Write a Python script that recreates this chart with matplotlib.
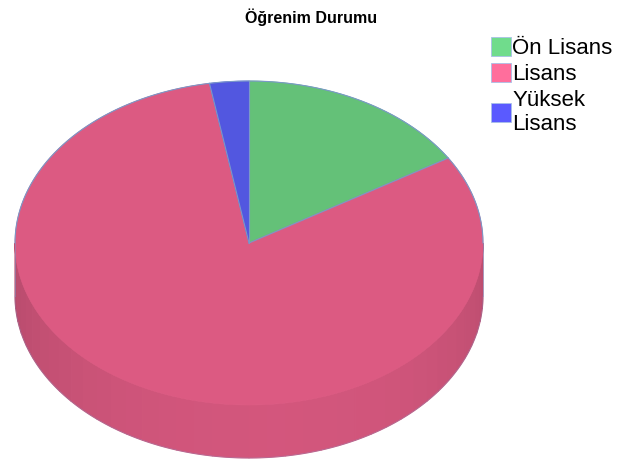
import numpy as np
import matplotlib.pyplot as plt
from matplotlib.patches import Polygon, Patch

# education level counts
labels = ['Ön Lisans', 'Lisans', 'Yüksek\nLisans']
counts = [6, 30, 1]
top_colors = ['#64c178', '#dc5a82', '#5257e0']
legend_colors = ['#70dc8c', '#ff6e9c', '#5a5aff']

W, H = 618, 461
fig = plt.figure(figsize=(W / 100, H / 100), dpi=100)
ax = fig.add_axes([0, 0, 1, 1])
ax.set_xlim(0, W)
ax.set_ylim(H, 0)
ax.axis('off')

cx, cy = 249, 243     # centre of the top face
rx, ry = 234, 162     # radii of the top ellipse
depth = 53            # thickness of the disc
edge = '#7a98c8'


def pt(theta, dy=0.0):
    t = np.radians(theta)
    return cx + rx * np.cos(t), cy - ry * np.sin(t) + dy


def shade(hexcol, f):
    c = np.array(plt.matplotlib.colors.to_rgb(hexcol))
    return np.clip(c * f, 0, 1)


# slice angles, starting at 12 o'clock and going clockwise
fracs = np.array(counts) / sum(counts)
ends = 90 - 360 * np.cumsum(fracs)
starts = np.concatenate([[90], ends[:-1]])

# side wall: only the front half (180..360 deg) shows
for s, e, col in zip(starts, ends, top_colors):
    lo, hi = e, s
    for k in (-360, 0, 360):
        a0, a1 = max(lo + k, 180), min(hi + k, 360)
        if a1 <= a0:
            continue
        n = max(int((a1 - a0) / 4.5), 1)
        bounds = np.linspace(a0, a1, n + 1)
        for b0, b1 in zip(bounds[:-1], bounds[1:]):
            mid = np.radians((b0 + b1) / 2)
            f = 0.84 + 0.13 * np.clip(np.sin(-mid) * 0.9 + np.cos(mid) * 0.1, 0, 1)
            arc = np.linspace(b0, b1, 6)
            upper = [pt(a) for a in arc]
            lower = [pt(a, depth) for a in arc[::-1]]
            fc = shade(col, f)
            ax.add_patch(Polygon(upper + lower, closed=True,
                                 facecolor=fc, edgecolor=fc, lw=0.8))

# faint outline on the wall's outer edge
arc = np.linspace(180, 360, 200)
ax.plot(*zip(*[pt(a, depth) for a in arc]), color=edge, lw=0.5, alpha=0.4)
for a in (180, 360):
    x0, y0 = pt(a)
    ax.plot([x0, x0], [y0, y0 + depth], color=edge, lw=0.6, alpha=0.6)

# top face slices
for s, e, col in zip(starts, ends, top_colors):
    arc = np.linspace(s, e, 200)
    verts = [(cx, cy)] + [pt(a) for a in arc]
    ax.add_patch(Polygon(verts, closed=True, facecolor=col,
                         edgecolor=col, lw=0.5))
    ax.plot([cx, pt(s)[0]], [cy, pt(s)[1]], color=edge, lw=0.8)

# rim of the top face along the back half
arc = np.linspace(0, 180, 300)
ax.plot(*zip(*[pt(a) for a in arc]), color=edge, lw=0.8)

ax.text(311, 8, 'Öğrenim Durumu', ha='center', va='top', fontsize=11.5,
        fontweight='bold', family='Liberation Sans')

handles = [Patch(facecolor=c, edgecolor='#a8c0e8', lw=0.6) for c in legend_colors]
ax.legend(handles, labels, loc='upper left', bbox_to_anchor=(482 / W, 1 - 28 / H),
          frameon=False, prop={'family': 'Liberation Sans', 'size': 16},
          handlelength=0.92, handleheight=0.92, handletextpad=0.05,
          labelspacing=0.2, borderaxespad=0)

plt.savefig('out.png', dpi=100)
